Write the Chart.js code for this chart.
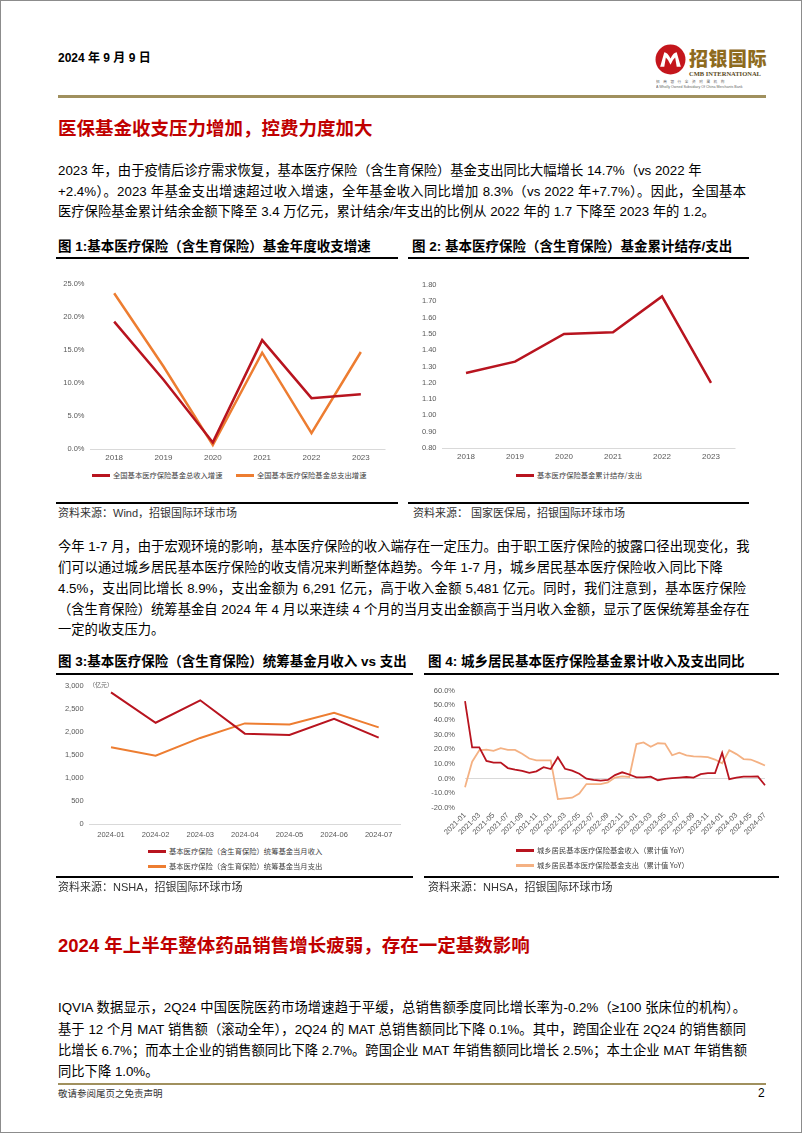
<!DOCTYPE html>
<html>
<head>
<meta charset="utf-8">
<script src="https://cdn.jsdelivr.net/npm/chart.js@4.4.1/dist/chart.umd.min.js"></script>
<style>
body { margin: 0; background: #fff; }
#page { position: relative; width: 800px; height: 1131px; border: 1px solid #8c8c8c; overflow: hidden;
  font-family: "Liberation Sans", "Noto Sans CJK SC", sans-serif; color: #000; }
.abs { position: absolute; }
.ln { position: absolute; left: 57px; white-space: nowrap; font-size: 13.3px; line-height: 16px; }
.j { width: 688px; text-align: justify; text-align-last: justify; }
.h1 { position: absolute; left: 57px; white-space: nowrap; font-size: 18.5px; line-height: 24px; font-weight: 700; color: #C00000; }
.ct { position: absolute; white-space: nowrap; font-size: 13.5px; line-height: 18px; font-weight: 700; }
.rule { position: absolute; height: 2px; background: #000; }
.src { position: absolute; white-space: nowrap; font-size: 11px; line-height: 14px; color: #333; }
.lg { position: absolute; white-space: nowrap; font-size: 7.3px; line-height: 10px; color: #404040; font-family: "Noto Sans CJK SC", sans-serif; }
.lg i { display: inline-block; width: 18px; height: 3px; vertical-align: middle; margin-right: 3px; position: relative; top: -1px; }
canvas { position: absolute; }
</style>
</head>
<body>
<div id="page">
  <!-- header -->
  <div class="abs" style="left:57px;top:50px;font-size:12px;line-height:14px;font-weight:700;white-space:nowrap">2024 年 9 月 9 日</div>
  <svg class="abs" style="left:654px;top:43px" width="31" height="31" viewBox="0 0 30 30">
    <circle cx="15" cy="15" r="14.5" fill="#C4161C"/>
    <path d="M5 22 L9 8 Q12 8 15 14 Q18 8 21 8 L25 22 L21 22 L19.5 13 Q17 15 15 20 Q13 15 10.5 13 L9 22 Z" fill="#fff"/>
  </svg>
  <div class="abs" style="left:688px;top:47px;font-size:19px;line-height:23px;font-weight:900;color:#8E6B1E;letter-spacing:0.5px;white-space:nowrap">招银国际</div>
  <div class="abs" style="left:688px;top:69px;font-size:6.5px;line-height:8px;font-family:'Liberation Serif',serif;font-weight:700;color:#5b4a24;white-space:nowrap">CMB INTERNATIONAL</div>
  <div class="abs" style="left:655px;top:79px;font-size:6px;line-height:6px;color:#666;white-space:nowrap;transform:scale(0.6);transform-origin:0 0;letter-spacing:6px">招商银行全资附属机构</div>
  <div class="abs" style="left:655px;top:84px;font-size:6px;line-height:6px;color:#666;white-space:nowrap;transform:scale(0.6);transform-origin:0 0">A Wholly Owned Subsidiary Of China Merchants Bank</div>
  <div class="abs" style="left:57px;top:94px;width:708px;height:3px;background:#A0905E"></div>

  <div class="h1" style="top:116px">医保基金收支压力增加，控费力度加大</div>

  <div class="ln" style="top:162px">2023 年，由于疫情后诊疗需求恢复，基本医疗保险（含生育保险）基金支出同比大幅增长 14.7%（vs 2022 年</div>
  <div class="ln j" style="top:183px">+2.4%）。2023 年基金支出增速超过收入增速，全年基金收入同比增加 8.3%（vs 2022 年+7.7%）。因此，全国基本</div>
  <div class="ln" style="top:203px">医疗保险基金累计结余金额下降至 3.4 万亿元，累计结余/年支出的比例从 2022 年的 1.7 下降至 2023 年的 1.2。</div>

  <!-- chart 1 / 2 frames -->
  <div class="ct" style="left:57px;top:237px">图 1:基本医疗保险（含生育保险）基金年度收支增速</div>
  <div class="rule" style="left:55px;top:256px;width:342px"></div>
  <div class="ct" style="left:411px;top:237px">图 2: 基本医疗保险（含生育保险）基金累计结存/支出</div>
  <div class="rule" style="left:407px;top:256px;width:341px"></div>
  <canvas id="c1" width="342" height="200" style="left:55px;top:262px"></canvas>
  <canvas id="c2" width="341" height="200" style="left:407px;top:262px"></canvas>
  <div id="lg1"></div>
  <div id="lg2"></div>
  <div class="rule" style="left:55px;top:501px;width:342px"></div>
  <div class="rule" style="left:407px;top:501px;width:341px"></div>
  <div class="src" style="left:57px;top:505px">资料来源：Wind，招银国际环球市场</div>
  <div class="src" style="left:412px;top:505px">资料来源： 国家医保局，招银国际环球市场</div>

  <div class="ln j" style="top:538px">今年 1-7 月，由于宏观环境的影响，基本医疗保险的收入端存在一定压力。由于职工医疗保险的披露口径出现变化，我</div>
  <div class="ln" style="top:559px">们可以通过城乡居民基本医疗保险的收支情况来判断整体趋势。今年 1-7 月，城乡居民基本医疗保险收入同比下降</div>
  <div class="ln j" style="top:580px">4.5%，支出同比增长 8.9%，支出金额为 6,291 亿元，高于收入金额 5,481 亿元。同时，我们注意到，基本医疗保险</div>
  <div class="ln j" style="top:601px">（含生育保险）统筹基金自 2024 年 4 月以来连续 4 个月的当月支出金额高于当月收入金额，显示了医保统筹基金存在</div>
  <div class="ln" style="top:621px">一定的收支压力。</div>

  <!-- chart 3 / 4 frames -->
  <div class="ct" style="left:57px;top:652px">图 3:基本医疗保险（含生育保险）统筹基金月收入 vs 支出</div>
  <div class="rule" style="left:55px;top:672px;width:357px"></div>
  <div class="abs" style="left:412px;top:650px;width:12px;height:240px;background:#fff"></div>
  <div class="ct" style="left:427px;top:652px">图 4: 城乡居民基本医疗保险基金累计收入及支出同比</div>
  <div class="rule" style="left:423px;top:672px;width:355px"></div>
  <canvas id="c3" width="357" height="170" style="left:55px;top:675px"></canvas>
  <canvas id="c4" width="370" height="170" style="left:408px;top:675px"></canvas>
  <div class="abs" style="left:88px;top:680px;font-size:6px;line-height:8px;color:#595959;white-space:nowrap">（亿元）</div>
  <div id="lg3"></div>
  <div id="lg4"></div>
  <div class="rule" style="left:55px;top:875px;width:357px"></div>
  <div class="rule" style="left:423px;top:875px;width:355px"></div>
  <div class="src" style="left:57px;top:879px">资料来源：NSHA，招银国际环球市场</div>
  <div class="src" style="left:427px;top:879px">资料来源：NHSA，招银国际环球市场</div>

  <div class="h1" style="top:933px">2024 年上半年整体药品销售增长疲弱，存在一定基数影响</div>

  <div class="ln j" style="top:999px">IQVIA 数据显示，2Q24 中国医院医药市场增速趋于平缓，总销售额季度同比增长率为-0.2%（≥100 张床位的机构）。</div>
  <div class="ln j" style="top:1021px">基于 12 个月 MAT 销售额（滚动全年），2Q24 的 MAT 总销售额同比下降 0.1%。其中，跨国企业在 2Q24 的销售额同</div>
  <div class="ln j" style="top:1042px">比增长 6.7%；而本土企业的销售额同比下降 2.7%。跨国企业 MAT 年销售额同比增长 2.5%；本土企业 MAT 年销售额</div>
  <div class="ln" style="top:1063px">同比下降 1.0%。</div>

  <!-- footer -->
  <div class="abs" style="left:57px;top:1082px;width:708px;height:2px;background:#A0905E"></div>
  <div class="abs" style="left:57px;top:1087px;font-size:9.5px;line-height:12px;color:#333;white-space:nowrap">敬请参阅尾页之免责声明</div>
  <div class="abs" style="left:757px;top:1085px;font-size:12px;line-height:14px;white-space:nowrap">2</div>
</div>

<script>
// chart 1: yearly growth of the fund
const years = ['2018', '2019', '2020', '2021', '2022', '2023'];
const incomeGrowth = [19.3, 10.5, 1.0, 16.5, 7.7, 8.3];
const expenseGrowth = [23.6, 12.5, 0.6, 14.6, 2.4, 14.7];

// chart 2: accumulated balance / expenditure
const balanceRatio = [1.26, 1.33, 1.50, 1.51, 1.73, 1.20];

// chart 3: monthly pooled fund, 100 million yuan
const months2024 = ['2024-01', '2024-02', '2024-03', '2024-04', '2024-05', '2024-06', '2024-07'];
const monthIncome = [2850, 2193, 2679, 1957, 1929, 2279, 1871];
const monthExpense = [1664, 1479, 1864, 2179, 2157, 2407, 2093];

// chart 4: urban-rural residents fund, cumulative YoY %
const months = ['2021-01', '2021-02', '2021-03', '2021-04', '2021-05', '2021-06', '2021-07', '2021-08', '2021-09', '2021-10', '2021-11', '2021-12',
  '2022-01', '2022-02', '2022-03', '2022-04', '2022-05', '2022-06', '2022-07', '2022-08', '2022-09', '2022-10', '2022-11', '2022-12',
  '2023-01', '2023-02', '2023-03', '2023-04', '2023-05', '2023-06', '2023-07', '2023-08', '2023-09', '2023-10', '2023-11', '2023-12',
  '2024-01', '2024-02', '2024-03', '2024-04', '2024-05', '2024-06', '2024-07'];
const ruralIncomeYoY = [52.8, 21.3, 21.3, 12.0, 10.9, 10.9, 7.2, 6.1, 5.2, 3.9, 5.0, 7.8,
  6.5, 14.6, 6.7, 5.4, 3.3, 0.0, -0.9, -1.3, -0.9, 2.4, 4.3, 2.8,
  0.9, 0.9, 1.3, -1.1, -0.2, 0.4, 0.7, 1.1, 0.7, 3.0, 3.7, 3.7,
  17.6, -0.4, 0.7, 1.3, 1.3, 1.5, -4.5];
const ruralExpenseYoY = [-5.9, 11.5, 19.3, 19.8, 18.9, 20.7, 19.6, 19.6, 17.0, 13.7, 12.4, 12.4,
  12.4, -13.9, -13.5, -13.0, -10.2, -3.7, -3.7, -3.7, -2.6, 0.7, 1.5, 1.1,
  23.5, 24.6, 21.7, 24.1, 23.9, 15.9, 17.6, 15.9, 15.2, 15.0, 14.6, 13.0,
  10.4, 19.3, 16.7, 13.3, 13.0, 11.1, 8.9];

const DARK_RED = '#B8141F';
const ORANGE = '#ED7D31';
const PEACH = '#F4B183';

Chart.defaults.font.family = '"Liberation Sans", Arial, sans-serif';
Chart.defaults.color = '#595959';
Chart.defaults.animation = false;

// only the base line is drawn, like the excel charts
function baseLine(base) {
  return function(c) {
    return (c.tick && Math.abs(c.tick.value - base) < 1e-9) ? '#D9D9D9' : 'rgba(0,0,0,0)';
  };
}

function makeLine(id, labels, sets, o) {
  let ctx = document.getElementById(id);
  return new Chart(ctx, {
    type: 'line',
    data: {
      labels: labels,
      datasets: sets.map(function(s) {
        return { label: s.label, data: s.data, borderColor: s.color, backgroundColor: s.color,
          borderWidth: s.width, pointRadius: 0, tension: 0 };
      })
    },
    options: {
      responsive: false,
      layout: { padding: o.pad },
      plugins: { legend: { display: false }, tooltip: { enabled: false } },
      scales: {
        x: {
          offset: o.offset,
          grid: { display: false, drawTicks: false },
          border: { display: false },
          ticks: o.xticks,
          afterFit: function(s) { s.height = o.xh; }
        },
        y: {
          min: o.min, max: o.max,
          grid: { color: baseLine(o.base), drawTicks: false },
          border: { display: false },
          ticks: { stepSize: o.step, padding: o.ypad, font: { size: 7.5 }, callback: o.fmt },
          afterFit: function(s) { s.width = o.yw; }
        }
      }
    }
  });
}

// legend in html, items from chart.js itself
function makeLegend(chart, boxId, spots) {
  let items = Chart.defaults.plugins.legend.labels.generateLabels(chart);
  let box = document.getElementById(boxId);
  items.forEach(function(it, i) {
    let d = document.createElement('div');
    d.className = 'lg';
    d.style.left = spots[i][0] + 'px';
    d.style.top = (spots[i][1] - 5) + 'px';
    d.innerHTML = '<i style="background:' + it.strokeStyle + '"></i>' + it.text;
    box.appendChild(d);
  });
}

let ch1 = makeLine('c1', years, [
  { label: '全国基本医疗保险基金总收入增速', data: incomeGrowth, color: DARK_RED, width: 2.5 },
  { label: '全国基本医疗保险基金总支出增速', data: expenseGrowth, color: ORANGE, width: 2.5 }
], { pad: { top: 21, right: 12.5 }, offset: true, xh: 14, yw: 33.5, ypad: 5, min: 0, max: 25, step: 5, base: 0,
  xticks: { font: { size: 8 }, padding: 4 },
  fmt: function(v) { return v.toFixed(1) + '%'; } });
makeLegend(ch1, 'lg1', [[91, 474], [235, 474]]);

let ch2 = makeLine('c2', years, [
  { label: '基本医疗保险基金累计结存/支出', data: balanceRatio, color: DARK_RED, width: 2.5 }
], { pad: { top: 22, right: 13.5 }, offset: true, xh: 15, yw: 33.5, ypad: 5, min: 0.8, max: 1.8, step: 0.1, base: 0.8,
  xticks: { font: { size: 8 }, padding: 4 },
  fmt: function(v) { return v.toFixed(2); } });
makeLegend(ch2, 'lg2', [[515, 474]]);

let ch3 = makeLine('c3', months2024, [
  { label: '基本医疗保险（含生育保险）统筹基金当月收入', data: monthIncome, color: DARK_RED, width: 2 },
  { label: '基本医疗保险（含生育保险）统筹基金当月支出', data: monthExpense, color: ORANGE, width: 2 }
], { pad: { top: 8, right: 12 }, offset: true, xh: 22, yw: 32.7, ypad: 5, min: 0, max: 3000, step: 500, base: 0,
  xticks: { font: { size: 7.5 }, padding: 6 },
  fmt: function(v) { return v.toLocaleString('en-US'); } });
makeLegend(ch3, 'lg3', [[147, 850], [147, 865]]);

let ch4 = makeLine('c4', months, [
  { label: '城乡居民基本医疗保险基金收入（累计值 YoY）', data: ruralIncomeYoY, color: DARK_RED, width: 1.8 },
  { label: '城乡居民基本医疗保险基金支出（累计值 YoY）', data: ruralExpenseYoY, color: PEACH, width: 1.8 }
], { pad: { top: 9, right: 14 }, offset: false, xh: 38, yw: 56, ypad: 10, min: -20, max: 60, step: 10, base: 0,
  xticks: { font: { size: 7.5 }, padding: 3, autoSkip: false, minRotation: 45, maxRotation: 45,
    callback: function(v, i) { return i % 2 === 0 ? months[i] : ''; } },
  fmt: function(v) { return v.toFixed(1) + '%'; } });
makeLegend(ch4, 'lg4', [[515, 849], [515, 864]]);
</script>
</body>
</html>
